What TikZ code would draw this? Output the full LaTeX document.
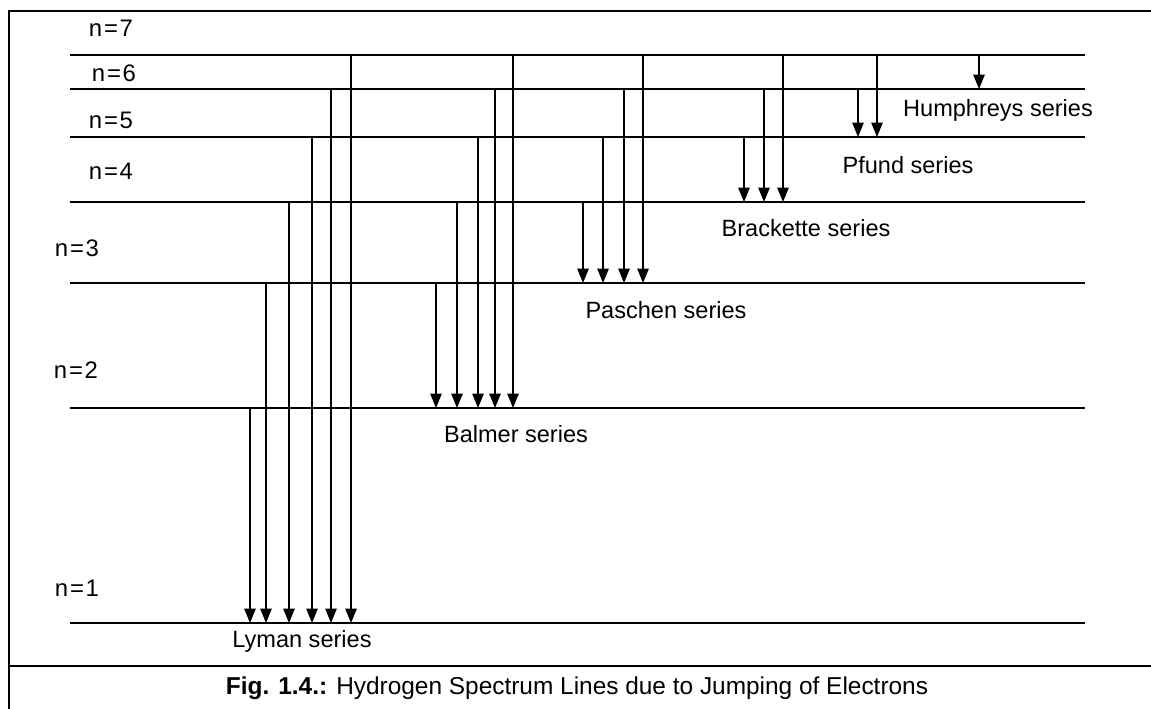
\documentclass[tikz,border=0pt]{standalone}
\usepackage{fontspec}
\setmainfont{Liberation Sans}
\usepackage{tikz}
\usetikzlibrary{arrows.meta}

\newcommand{\lvltag}[1]{n\kern1pt=\kern1pt#1}

\begin{document}
\begin{tikzpicture}[x=0.02cm, y=-0.02cm,
  lvl/.style={line width=0.8pt},
  arr/.style={-{Triangle[length=0.29cm, width=0.23cm]}, line width=0.8pt},
  tag/.style={inner sep=0pt, font=\fontsize{13.6}{16}\selectfont},
  ser/.style={inner sep=0pt, font=\fontsize{13.4}{16}\selectfont},
  figcap/.style={inner sep=0pt, font=\fontsize{13.9}{16}\selectfont}
]
\useasboundingbox (0,0) rectangle (1151,708);
% frame and caption rule
\draw[line width=0.9pt] (9,720) -- (9,11) -- (1170,11);
\draw[line width=0.9pt] (9,666) -- (1170,666);
% energy levels
\foreach \n/\y in {1/623, 2/408, 3/283, 4/202, 5/137, 6/89, 7/55} {
  \coordinate (L\n) at (70,\y);
  \coordinate (R\n) at (1085,\y);
  \draw[lvl] (L\n) -- (R\n);
}
\node[tag] (n7) at (111,28) {\lvltag{7}};
\node[tag] (n6) at (114,73) {\lvltag{6}};
\node[tag] (n5) at (111,120) {\lvltag{5}};
\node[tag] (n4) at (111,171) {\lvltag{4}};
\node[tag] (n3) at (77,248) {\lvltag{3}};
\node[tag] (n2) at (76,370) {\lvltag{2}};
\node[tag] (n1) at (77,588) {\lvltag{1}};
% transitions: x / from / to
\foreach \x/\hi/\lo in {250/2/1, 266/3/1, 289/4/1, 312/5/1, 331/6/1, 351/7/1,
                        436/3/2, 457/4/2, 478/5/2, 495/6/2, 513/7/2,
                        583/4/3, 603/5/3, 624/6/3, 643/7/3,
                        744/5/4, 764/6/4, 783/7/4,
                        858/6/5, 877/7/5,
                        979/7/6} {
  \coordinate (t) at (\x,0);
  \draw[arr] (t |- L\hi) -- (t |- L\lo);
}
% series names
\node[ser] (hum) at (998,110) {Humphreys series};
\node[ser] (pfu) at (908,165) {Pfund series};
\node[ser] (bra) at (806,228) {Brackette series};
\node[ser] (pas) at (666,310) {Paschen series};
\node[ser] (bal) at (516,434) {Balmer series};
\node[ser] (lym) at (302,641) {Lyman series};
\node[figcap] (fig) at (577,688) {\textbf{Fig. 1.4.:} Hydrogen Spectrum Lines due to Jumping of Electrons};
\end{tikzpicture}
\end{document}
